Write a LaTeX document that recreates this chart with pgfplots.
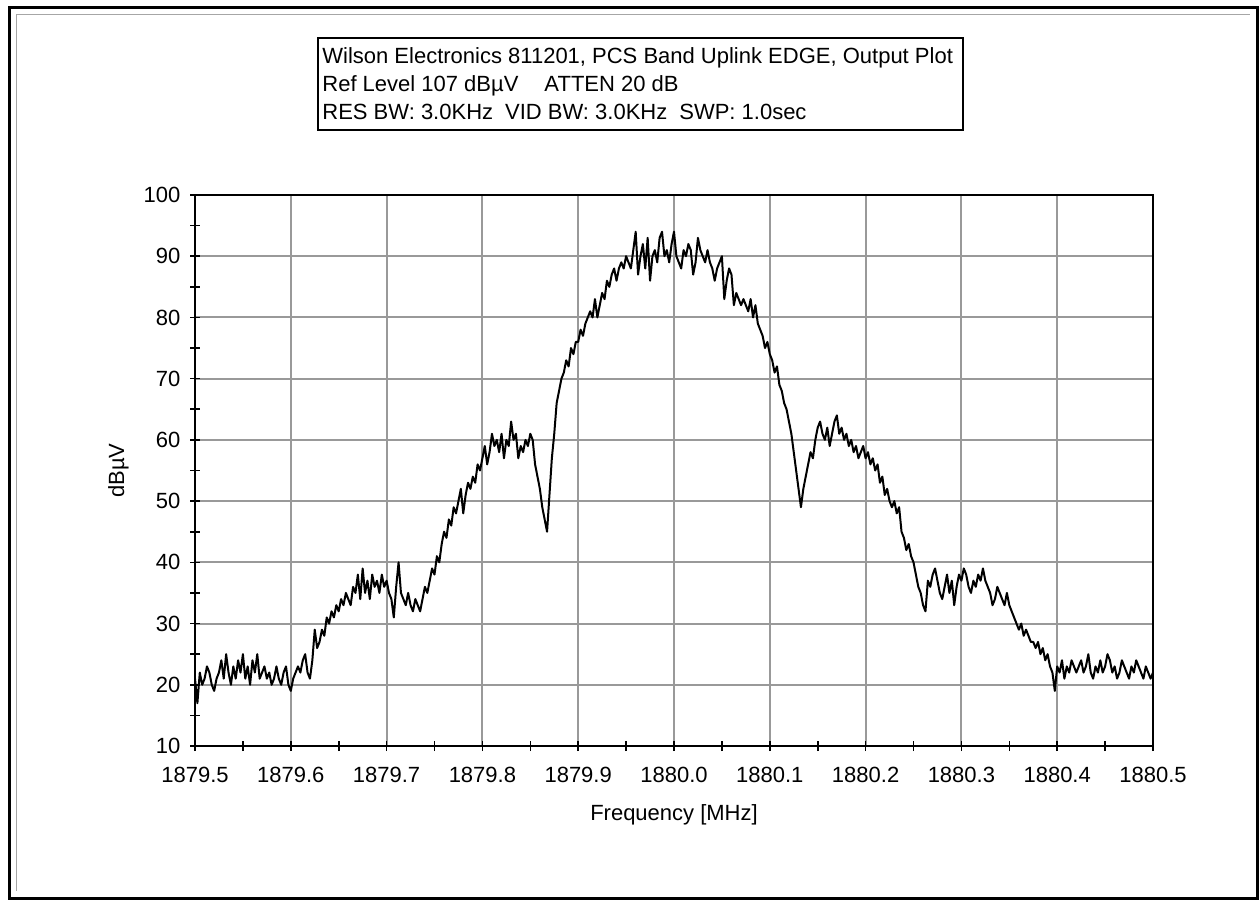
\documentclass[border=0pt]{standalone}
\usepackage{pgfplots}
\pgfplotsset{compat=1.18}
\usepackage{fontspec}
\setmainfont{Liberation Sans}

% spectrum trace (MHz, dBuV)
\pgfplotstableread[row sep=\\]{
f y\\
1879.5000 21\\ 1879.5025 17\\ 1879.5050 22\\ 1879.5075 20\\ 1879.5100 21\\ 1879.5125 23\\ 1879.5150 22\\ 1879.5175 20\\ 1879.5200 19\\ 1879.5225 21\\
1879.5250 22\\ 1879.5275 24\\ 1879.5300 21\\ 1879.5325 25\\ 1879.5350 22\\ 1879.5375 20\\ 1879.5400 23\\ 1879.5425 21\\ 1879.5450 24\\ 1879.5475 22\\
1879.5500 25\\ 1879.5525 21\\ 1879.5550 23\\ 1879.5575 20\\ 1879.5600 24\\ 1879.5625 22\\ 1879.5650 25\\ 1879.5675 21\\ 1879.5700 22\\ 1879.5725 23\\
1879.5750 21\\ 1879.5775 22\\ 1879.5800 20\\ 1879.5825 21\\ 1879.5850 23\\ 1879.5875 21\\ 1879.5900 20\\ 1879.5925 22\\ 1879.5950 23\\ 1879.5975 20\\
1879.6000 19\\ 1879.6025 21\\ 1879.6050 22\\ 1879.6075 23\\ 1879.6100 22\\ 1879.6125 24\\ 1879.6150 25\\ 1879.6175 22\\ 1879.6200 21\\ 1879.6225 24\\
1879.6250 29\\ 1879.6275 26\\ 1879.6300 27\\ 1879.6325 29\\ 1879.6350 28\\ 1879.6375 31\\ 1879.6400 30\\ 1879.6425 32\\ 1879.6450 31\\ 1879.6475 33\\
1879.6500 32\\ 1879.6525 34\\ 1879.6550 33\\ 1879.6575 35\\ 1879.6600 34\\ 1879.6625 33\\ 1879.6650 36\\ 1879.6675 35\\ 1879.6700 38\\ 1879.6725 34\\
1879.6750 39\\ 1879.6775 35\\ 1879.6800 37\\ 1879.6825 34\\ 1879.6850 38\\ 1879.6875 36\\ 1879.6900 37\\ 1879.6925 35\\ 1879.6950 38\\ 1879.6975 36\\
1879.7000 37\\ 1879.7025 35\\ 1879.7050 34\\ 1879.7075 31\\ 1879.7100 36\\ 1879.7125 40\\ 1879.7150 35\\ 1879.7175 34\\ 1879.7200 33\\ 1879.7225 35\\
1879.7250 33\\ 1879.7275 32\\ 1879.7300 34\\ 1879.7325 33\\ 1879.7350 32\\ 1879.7375 34\\ 1879.7400 36\\ 1879.7425 35\\ 1879.7450 37\\ 1879.7475 39\\
1879.7500 38\\ 1879.7525 41\\ 1879.7550 40\\ 1879.7575 43\\ 1879.7600 45\\ 1879.7625 44\\ 1879.7650 47\\ 1879.7675 46\\ 1879.7700 49\\ 1879.7725 48\\
1879.7750 50\\ 1879.7775 52\\ 1879.7800 48\\ 1879.7825 51\\ 1879.7850 53\\ 1879.7875 52\\ 1879.7900 54\\ 1879.7925 53\\ 1879.7950 56\\ 1879.7975 55\\
1879.8000 57\\ 1879.8025 59\\ 1879.8050 56\\ 1879.8075 58\\ 1879.8100 61\\ 1879.8125 59\\ 1879.8150 60\\ 1879.8175 58\\ 1879.8200 61\\ 1879.8225 57\\
1879.8250 60\\ 1879.8275 59\\ 1879.8300 63\\ 1879.8325 60\\ 1879.8350 61\\ 1879.8375 57\\ 1879.8400 59\\ 1879.8425 58\\ 1879.8450 60\\ 1879.8475 59\\
1879.8500 61\\ 1879.8525 60\\ 1879.8550 56\\ 1879.8575 54\\ 1879.8600 52\\ 1879.8625 49\\ 1879.8650 47\\ 1879.8675 45\\ 1879.8700 51\\ 1879.8725 57\\
1879.8750 61\\ 1879.8775 66\\ 1879.8800 68\\ 1879.8825 70\\ 1879.8850 71\\ 1879.8875 73\\ 1879.8900 72\\ 1879.8925 75\\ 1879.8950 74\\ 1879.8975 76\\
1879.9000 76\\ 1879.9025 78\\ 1879.9050 77\\ 1879.9075 79\\ 1879.9100 80\\ 1879.9125 81\\ 1879.9150 80\\ 1879.9175 83\\ 1879.9200 80\\ 1879.9225 82\\
1879.9250 84\\ 1879.9275 83\\ 1879.9300 86\\ 1879.9325 85\\ 1879.9350 87\\ 1879.9375 88\\ 1879.9400 86\\ 1879.9425 88\\ 1879.9450 89\\ 1879.9475 88\\
1879.9500 90\\ 1879.9525 89\\ 1879.9550 88\\ 1879.9575 91\\ 1879.9600 94\\ 1879.9625 87\\ 1879.9650 90\\ 1879.9675 92\\ 1879.9700 88\\ 1879.9725 93\\
1879.9750 86\\ 1879.9775 90\\ 1879.9800 91\\ 1879.9825 89\\ 1879.9850 93\\ 1879.9875 94\\ 1879.9900 90\\ 1879.9925 91\\ 1879.9950 89\\ 1879.9975 92\\
1880.0000 94\\ 1880.0025 90\\ 1880.0050 89\\ 1880.0075 88\\ 1880.0100 91\\ 1880.0125 90\\ 1880.0150 92\\ 1880.0175 91\\ 1880.0200 87\\ 1880.0225 89\\
1880.0250 93\\ 1880.0275 91\\ 1880.0300 90\\ 1880.0325 89\\ 1880.0350 91\\ 1880.0375 89\\ 1880.0400 88\\ 1880.0425 86\\ 1880.0450 88\\ 1880.0475 89\\
1880.0500 90\\ 1880.0525 83\\ 1880.0550 86\\ 1880.0575 88\\ 1880.0600 87\\ 1880.0625 82\\ 1880.0650 84\\ 1880.0675 83\\ 1880.0700 82\\ 1880.0725 83\\
1880.0750 82\\ 1880.0775 81\\ 1880.0800 83\\ 1880.0825 80\\ 1880.0850 82\\ 1880.0875 79\\ 1880.0900 78\\ 1880.0925 77\\ 1880.0950 75\\ 1880.0975 76\\
1880.1000 74\\ 1880.1025 73\\ 1880.1050 71\\ 1880.1075 72\\ 1880.1100 69\\ 1880.1125 68\\ 1880.1150 66\\ 1880.1175 65\\ 1880.1200 63\\ 1880.1225 61\\
1880.1250 58\\ 1880.1275 55\\ 1880.1300 52\\ 1880.1325 49\\ 1880.1350 52\\ 1880.1375 54\\ 1880.1400 56\\ 1880.1425 58\\ 1880.1450 57\\ 1880.1475 60\\
1880.1500 62\\ 1880.1525 63\\ 1880.1550 61\\ 1880.1575 60\\ 1880.1600 62\\ 1880.1625 59\\ 1880.1650 61\\ 1880.1675 63\\ 1880.1700 64\\ 1880.1725 61\\
1880.1750 62\\ 1880.1775 60\\ 1880.1800 61\\ 1880.1825 59\\ 1880.1850 60\\ 1880.1875 58\\ 1880.1900 59\\ 1880.1925 57\\ 1880.1950 58\\ 1880.1975 59\\
1880.2000 57\\ 1880.2025 58\\ 1880.2050 56\\ 1880.2075 57\\ 1880.2100 55\\ 1880.2125 56\\ 1880.2150 53\\ 1880.2175 54\\ 1880.2200 51\\ 1880.2225 52\\
1880.2250 50\\ 1880.2275 49\\ 1880.2300 50\\ 1880.2325 48\\ 1880.2350 49\\ 1880.2375 45\\ 1880.2400 44\\ 1880.2425 42\\ 1880.2450 43\\ 1880.2475 41\\
1880.2500 40\\ 1880.2525 38\\ 1880.2550 36\\ 1880.2575 35\\ 1880.2600 33\\ 1880.2625 32\\ 1880.2650 37\\ 1880.2675 36\\ 1880.2700 38\\ 1880.2725 39\\
1880.2750 37\\ 1880.2775 35\\ 1880.2800 34\\ 1880.2825 36\\ 1880.2850 38\\ 1880.2875 35\\ 1880.2900 37\\ 1880.2925 33\\ 1880.2950 36\\ 1880.2975 38\\
1880.3000 37\\ 1880.3025 39\\ 1880.3050 38\\ 1880.3075 36\\ 1880.3100 35\\ 1880.3125 37\\ 1880.3150 36\\ 1880.3175 38\\ 1880.3200 37\\ 1880.3225 39\\
1880.3250 37\\ 1880.3275 36\\ 1880.3300 35\\ 1880.3325 33\\ 1880.3350 34\\ 1880.3375 36\\ 1880.3400 35\\ 1880.3425 34\\ 1880.3450 33\\ 1880.3475 35\\
1880.3500 33\\ 1880.3525 32\\ 1880.3550 31\\ 1880.3575 30\\ 1880.3600 29\\ 1880.3625 30\\ 1880.3650 28\\ 1880.3675 29\\ 1880.3700 28\\ 1880.3725 27\\
1880.3750 27\\ 1880.3775 26\\ 1880.3800 27\\ 1880.3825 25\\ 1880.3850 26\\ 1880.3875 24\\ 1880.3900 25\\ 1880.3925 23\\ 1880.3950 22\\ 1880.3975 19\\
1880.4000 23\\ 1880.4025 22\\ 1880.4050 24\\ 1880.4075 21\\ 1880.4100 23\\ 1880.4125 22\\ 1880.4150 24\\ 1880.4175 23\\ 1880.4200 22\\ 1880.4225 23\\
1880.4250 24\\ 1880.4275 22\\ 1880.4300 23\\ 1880.4325 25\\ 1880.4350 22\\ 1880.4375 21\\ 1880.4400 23\\ 1880.4425 22\\ 1880.4450 24\\ 1880.4475 22\\
1880.4500 23\\ 1880.4525 25\\ 1880.4550 24\\ 1880.4575 22\\ 1880.4600 23\\ 1880.4625 21\\ 1880.4650 22\\ 1880.4675 24\\ 1880.4700 23\\ 1880.4725 22\\
1880.4750 21\\ 1880.4775 23\\ 1880.4800 22\\ 1880.4825 24\\ 1880.4850 23\\ 1880.4875 22\\ 1880.4900 21\\ 1880.4925 23\\ 1880.4950 22\\ 1880.4975 21\\
1880.5000 22\\
}\trace

\begin{document}
\fontsize{11}{13}\selectfont
\begin{tikzpicture}[x=0.5pt,y=0.5pt]
\useasboundingbox (0,0) rectangle (1260,901);
% outer frame
\draw[line width=1.5pt] (9,3) rectangle (1257,893);
\draw[black!35, line width=0.5pt] (16,10) -- (16,886) -- (1250,886);

% header box
\draw[line width=1pt] (318,771) rectangle (963,863);
\node[anchor=base west, inner sep=0] at (322,837) {Wilson Electronics 811201, PCS Band Uplink EDGE, Output Plot};
\node[anchor=base west, inner sep=0] at (322,809) {Ref Level 107 dBµV\hspace{13pt}ATTEN 20 dB};
\node[anchor=base west, inner sep=0] at (322,781) {RES BW: 3.0KHz\hspace{6pt}VID BW: 3.0KHz\hspace{6pt}SWP: 1.0sec};

\begin{axis}[
    at={(97.5pt,77.5pt)}, anchor=south west,
    scale only axis,
    width=479pt, height=275.5pt,
    xmin=1879.5, xmax=1880.5,
    ymin=10, ymax=100,
    xtick={1879.5,1879.6,1879.7,1879.8,1879.9,1880.0,1880.1,1880.2,1880.3,1880.4,1880.5},
    xticklabels={1879.5,1879.6,1879.7,1879.8,1879.9,1880.0,1880.1,1880.2,1880.3,1880.4,1880.5},
    ytick={10,20,30,40,50,60,70,80,90,100},
    yticklabels={10,20,30,40,50,60,70,80,90,100},
    minor x tick num=1, minor y tick num=1,
    xtick pos=lower, ytick pos=left,
    tick align=center,
    major tick length=5pt, minor tick length=5pt,
    tick style={black, line width=0.8pt},
    grid=major,
    major grid style={black!40, line width=1pt},
    axis line style={line width=1.2pt},
    tick label style={font=\fontsize{11}{13}\selectfont},
    xticklabel style={yshift=-4pt},
    yticklabel style={xshift=-1pt},
    xlabel={Frequency [MHz]},
    ylabel={dBµV},
    xlabel style={at={(axis description cs:0.5,-0.125)}, anchor=center},
    ylabel style={at={(axis description cs:-0.08,0.5)}, anchor=center},
]
\addplot[black, line width=1pt, line join=round] table[x=f, y=y] {\trace};
\end{axis}
\end{tikzpicture}
\end{document}
